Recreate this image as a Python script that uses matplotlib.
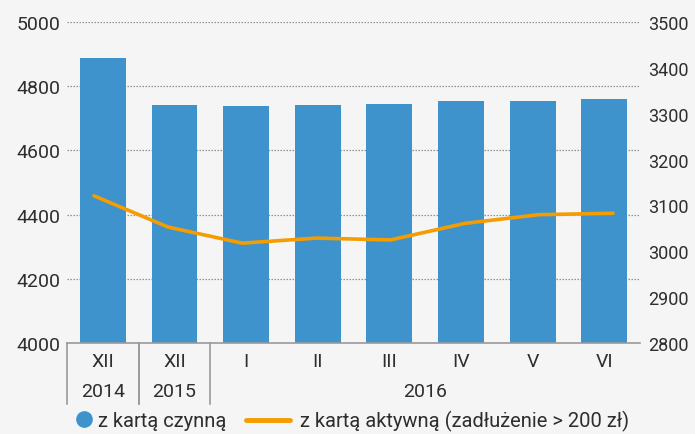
import matplotlib.pyplot as plt
from matplotlib import transforms
from matplotlib.lines import Line2D

# card counts (thousands)
months = ['XII', 'XII', 'I', 'II', 'III', 'IV', 'V', 'VI']
years = ['2014', '2015', '2016']
year_spans = [(0, 0), (1, 1), (2, 7)]
cards_working = [4887, 4741, 4738, 4741, 4744, 4753, 4753, 4760]
cards_active = [3121, 3053, 3018, 3029, 3025, 3061, 3080, 3083]

bar_color = '#3f93cc'
line_color = '#f59c00'
text_color = '#2e2e2e'
bg_color = '#f5f5f5'

plt.rcParams['font.family'] = ['Roboto', 'DejaVu Sans']
plt.rcParams['font.size'] = 14

fig = plt.figure(figsize=(6.95, 4.35), dpi=100)
fig.set_facecolor(bg_color)
pos = [0.0964, 0.2085, 0.8245, 0.7393]
ax = fig.add_axes(pos)
ax.set_facecolor(bg_color)

x = list(range(len(months)))
ax.bar(x, cards_working, width=0.64, color=bar_color, zorder=2)
ax.set_xlim(-0.5, len(months) - 0.5)
ax.set_ylim(4000, 5000)
ax.set_yticks(range(4000, 5001, 200))
ax.grid(axis='y', linestyle=(0, (1.2, 1.2)), color='#8f8f8f', linewidth=0.9, zorder=1)
ax.set_axisbelow(True)

for side in ['top', 'right', 'left']:
    ax.spines[side].set_visible(False)
ax.spines['bottom'].set_color('#9a9a9a')
ax.spines['bottom'].set_linewidth(1.2)
ax.tick_params(axis='y', length=0, pad=5, colors=text_color, labelsize=14)
ax.set_xticks(x)
ax.set_xticklabels([])
ax.tick_params(axis='x', length=0)

# two-row category labels with separators between year groups
trans = transforms.blended_transform_factory(ax.transData, ax.transAxes)
for i, m in enumerate(months):
    ax.text(i, -0.054, m, transform=trans, ha='center', va='center',
            color=text_color, fontsize=14)
for yr, (a, b) in zip(years, year_spans):
    ax.text((a + b) / 2, -0.147, yr, transform=trans, ha='center', va='center',
            color=text_color, fontsize=14)
for a, b in year_spans[:2]:
    for edge in (a - 0.5, b + 0.5):
        ax.add_line(Line2D([edge, edge], [0, -0.19], transform=trans,
                           color='#9a9a9a', linewidth=1.2, clip_on=False))

# line series on its own axes (right scale)
ax2 = fig.add_axes(pos)
ax2.patch.set_visible(False)
ax2.plot(x, cards_active, color=line_color, linewidth=2.6, solid_capstyle='round', zorder=3)
ax2.set_xlim(-0.364, len(months) - 1 + 0.364)
ax2.set_ylim(2800, 3500)
ax2.set_yticks(range(2800, 3501, 100))
ax2.yaxis.tick_right()
ax2.set_xticks([])
for spine in ax2.spines.values():
    spine.set_visible(False)
ax2.tick_params(axis='y', length=0, pad=6, colors=text_color, labelsize=13)

# legend: two entries placed side by side
leg_kw = dict(loc='center left', frameon=False, fontsize=14.5,
              borderpad=0, borderaxespad=0)
leg1 = fig.legend([Line2D([], [], marker='o', linestyle='none', markersize=11,
                          markerfacecolor=bar_color, markeredgecolor=bar_color)],
                  ['z kartą czynną'], bbox_to_anchor=(76 / 695, 0.03),
                  handlelength=0.8, handletextpad=0.3, **leg_kw)
leg2 = fig.legend([Line2D([], [], color=line_color, linewidth=3.5, solid_capstyle='round')],
                  ['z kartą aktywną (zadłużenie > 200 zł)'],
                  bbox_to_anchor=(246 / 695, 0.03),
                  handlelength=2.2, handletextpad=0.5, **leg_kw)
for leg in (leg1, leg2):
    for t in leg.get_texts():
        t.set_color(text_color)

fig.savefig('out.png', dpi=100, facecolor=fig.get_facecolor())
